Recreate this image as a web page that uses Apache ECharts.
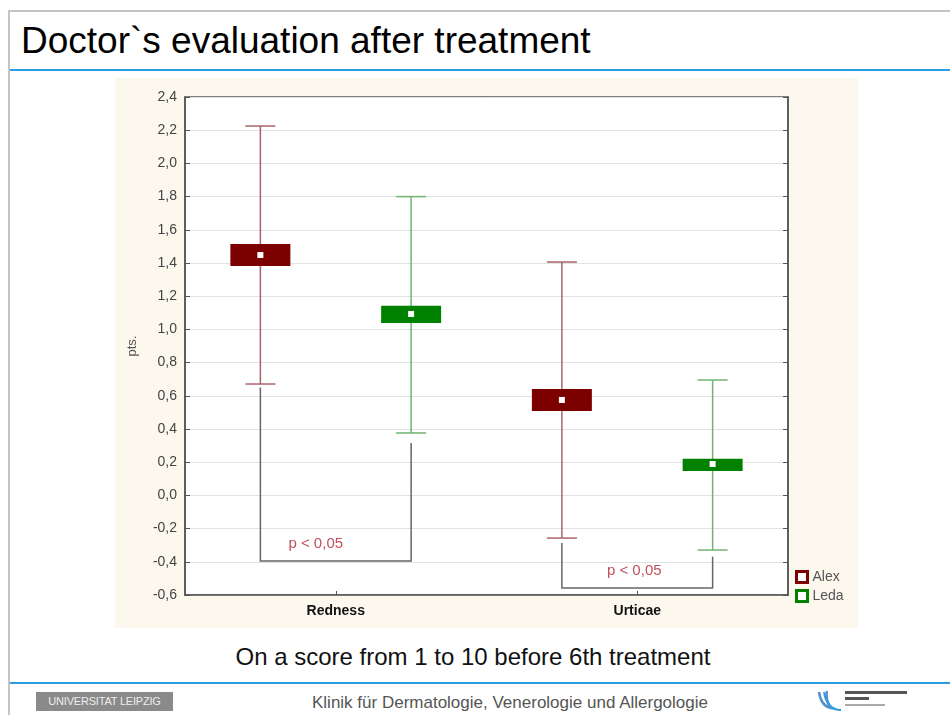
<!DOCTYPE html>
<html>
<head>
<meta charset="utf-8">
<script src="https://cdn.jsdelivr.net/npm/echarts@6/dist/echarts.min.js"></script>
<style>
body { margin:0; width:950px; height:715px; background:#fff; position:relative; overflow:hidden; font-family:"Liberation Sans", Arial, sans-serif; }
#frameTop { position:absolute; left:8px; top:10px; width:942px; height:2px; background:#c4c4c4; }
#frameLeft { position:absolute; left:8px; top:10px; width:2px; height:705px; background:#c4c4c4; }
#blue1 { position:absolute; left:10px; top:69px; width:940px; height:2px; background:#2b9be3; }
#blue2 { position:absolute; left:10px; top:682px; width:940px; height:2px; background:#2b9be3; }
#title { position:absolute; left:21px; top:22px; font-size:37px; line-height:37px; color:#000; white-space:nowrap; }
#sub { position:absolute; left:0; width:946px; text-align:center; top:645px; font-size:24px; line-height:24px; color:#111; }
#uni { position:absolute; left:36px; top:692px; width:137px; height:19px; background:#8a8a8a; color:#eee; font-size:11px; line-height:19px; text-align:center; letter-spacing:-0.2px; }
#klinik { position:absolute; left:312px; top:693px; font-size:17px; color:#555; white-space:nowrap; }
#logo { position:absolute; left:815px; top:688px; }
#chart { position:absolute; left:115px; top:78px; width:743px; height:550px; }
</style>
</head>
<body>
<div id="frameTop"></div>
<div id="frameLeft"></div>
<div id="title">Doctor`s evaluation after treatment</div>
<div id="blue1"></div>
<div id="chart"></div>
<div id="sub">On a score from 1 to 10 before 6th treatment</div>
<div id="blue2"></div>
<div id="uni">UNIVERSITAT LEIPZIG</div>
<div id="klinik">Klinik für Dermatologie, Venerologie und Allergologie</div>
<div id="logo">
<svg width="115" height="26">
<path d="M4 4 Q6 18 16 20 Q10 12 12 3" fill="none" stroke="#5a8fc8" stroke-width="2.5"/>
<path d="M9 4 Q12 22 26 22" fill="none" stroke="#2b9be3" stroke-width="2"/>
<rect x="30" y="3" width="62" height="3" fill="#555"/>
<rect x="30" y="9" width="24" height="3" fill="#555"/>
<rect x="30" y="16" width="40" height="2" fill="#aaa"/>
</svg>
</div>
<script>
var categories = ['Redness', 'Urticae'];
var seriesNames = ['Alex', 'Leda'];
// [category, mean, box low, box high, whisker low, whisker high]
var alexData = [
	[0, 1.448, 1.382, 1.514, 0.671, 2.225],
	[1, 0.575, 0.508, 0.641, -0.257, 1.406]
];
var ledaData = [
	[0, 1.093, 1.039, 1.143, 0.376, 1.80],
	[1, 0.189, 0.147, 0.221, -0.329, 0.695]
];
// significance brackets: [category, left top, bottom, right top]
var brackets = [
	[0, 0.65, -0.395, 0.316],
	[1, -0.287, -0.558, -0.37]
];
var pLabel = 'p < 0,05';

var boxColors = ['#7d0000', '#008200'];
var whiskerColors = ['#a8646c', '#70b470'];
var pLabelDx = [-20, -3];

function boxRenderer(idx) {
	return function (params, api) {
		var half = api.size([1, 0])[0] / 4;
		var dx = idx === 0 ? -half : half;
		var mid = api.coord([api.value(0), api.value(1)]);
		var cx = mid[0] + dx;
		var bLo = api.coord([api.value(0), api.value(2)])[1];
		var bHi = api.coord([api.value(0), api.value(3)])[1];
		var wLo = api.coord([api.value(0), api.value(4)])[1];
		var wHi = api.coord([api.value(0), api.value(5)])[1];
		var ls = { stroke: whiskerColors[idx], lineWidth: 1.5 };
		return {
			type: 'group',
			children: [
				{ type: 'line', shape: { x1: cx, y1: wHi, x2: cx, y2: wLo }, style: ls },
				{ type: 'line', shape: { x1: cx - 15, y1: wHi, x2: cx + 15, y2: wHi }, style: ls },
				{ type: 'line', shape: { x1: cx - 15, y1: wLo, x2: cx + 15, y2: wLo }, style: ls },
				{ type: 'rect', shape: { x: cx - 30, y: bHi, width: 60, height: bLo - bHi }, style: { fill: boxColors[idx] } },
				{ type: 'rect', shape: { x: cx - 3, y: mid[1] - 3, width: 6, height: 6 }, style: { fill: '#fff' } }
			]
		};
	};
}

function bracketRenderer(params, api) {
	var half = api.size([1, 0])[0] / 4;
	var c = api.value(0);
	var cx = api.coord([c, 0])[0];
	var yl = api.coord([c, api.value(1)])[1];
	var yb = api.coord([c, api.value(2)])[1];
	var yr = api.coord([c, api.value(3)])[1];
	return {
		type: 'group',
		children: [
			{ type: 'polyline', shape: { points: [[cx - half, yl], [cx - half, yb], [cx + half, yb], [cx + half, yr]] },
			  style: { stroke: '#666', lineWidth: 1.5, fill: null } },
			{ type: 'text', x: cx + pLabelDx[params.dataIndex], y: yb - 17,
			  style: { text: pLabel, fill: '#c0505c', font: '15px "Liberation Sans", Arial', align: 'center', verticalAlign: 'middle' } }
		]
	};
}

var chart = echarts.init(document.getElementById('chart'));
var yCommon = {
	type: 'value', min: -0.6, max: 2.4, interval: 0.2,
	axisLine: { show: true, lineStyle: { color: '#555', width: 1.5 } },
	axisTick: { show: true, inside: true, length: 5, lineStyle: { color: '#555' } }
};
chart.setOption({
	backgroundColor: '#fcf8ee',
	animation: false,
	grid: { left: 70, top: 19, width: 603, height: 498, show: true, backgroundColor: '#fff', borderColor: '#555', borderWidth: 1.5 },
	legend: {
		orient: 'vertical', left: 680, top: 492, itemWidth: 11, itemHeight: 11, itemGap: 5, padding: 0,
		textStyle: { color: '#555', fontSize: 14, fontFamily: 'Liberation Sans' },
		data: [
			{ name: 'Alex', icon: 'rect', itemStyle: { color: '#fff', borderColor: boxColors[0], borderWidth: 3 } },
			{ name: 'Leda', icon: 'rect', itemStyle: { color: '#fff', borderColor: boxColors[1], borderWidth: 3 } }
		]
	},
	xAxis: {
		type: 'category', data: categories,
		axisLine: { onZero: false, lineStyle: { color: '#555', width: 1.5 } },
		axisTick: { show: true, inside: true, alignWithLabel: true, length: 4, lineStyle: { color: '#555' } },
		axisLabel: { color: '#111', fontWeight: 'bold', fontSize: 14, margin: 9, fontFamily: 'Liberation Sans' }
	},
	yAxis: [
		Object.assign({}, yCommon, {
			name: 'pts.', nameLocation: 'middle', nameGap: 46, nameRotate: 90,
			nameTextStyle: { color: '#555', fontSize: 13, fontFamily: 'Liberation Sans' },
			splitLine: { show: true, lineStyle: { color: '#e2e2e2' } },
			axisLabel: { color: '#444', fontSize: 14, margin: 8, fontFamily: 'Liberation Sans',
				formatter: function (v) { return v.toFixed(1).replace('.', ','); } }
		}),
		Object.assign({}, yCommon, {
			position: 'right', splitLine: { show: false }, axisLabel: { show: false }
		})
	],
	series: [
		{ name: 'Alex', type: 'custom', renderItem: boxRenderer(0), data: alexData, encode: { x: 0, y: [2, 3, 4, 5] }, itemStyle: { color: boxColors[0] } },
		{ name: 'Leda', type: 'custom', renderItem: boxRenderer(1), data: ledaData, encode: { x: 0, y: [2, 3, 4, 5] }, itemStyle: { color: boxColors[1] } },
		{ name: 'p', type: 'custom', renderItem: bracketRenderer, data: brackets, encode: { x: 0, y: [1, 2, 3] } }
	]
});
</script>
</body>
</html>
